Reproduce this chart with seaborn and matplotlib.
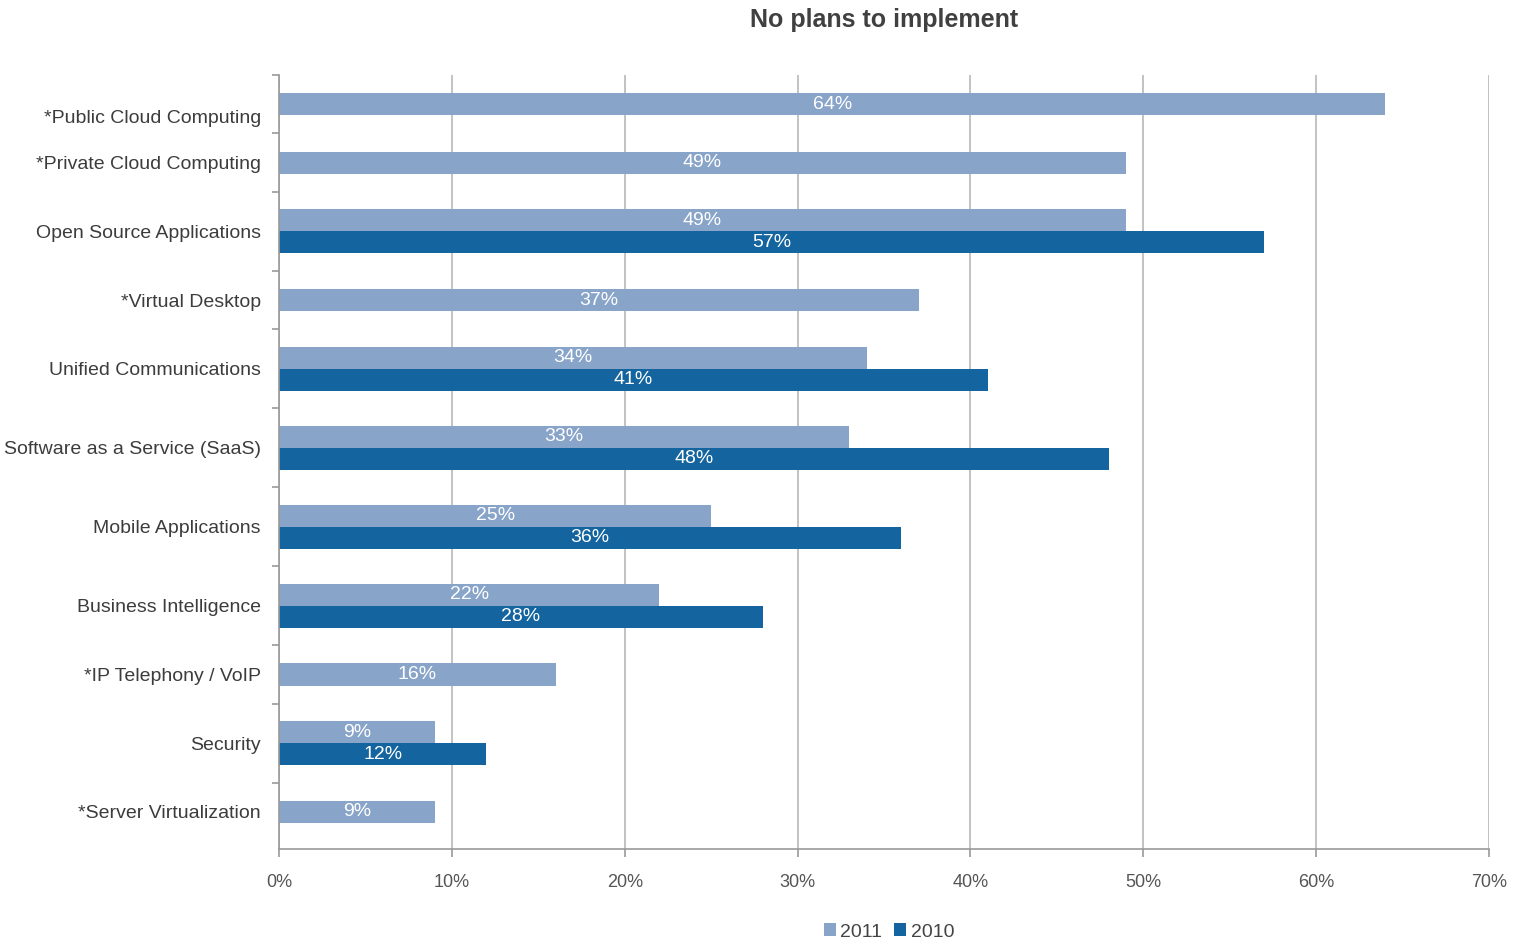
import matplotlib
matplotlib.use("Agg")
import matplotlib.pyplot as plt
from matplotlib.patches import Patch
import pandas as pd
import seaborn as sns

# Survey results: share of respondents with no plans to implement
categories = [
    "*Public Cloud Computing",
    "*Private Cloud Computing",
    "Open Source Applications",
    "*Virtual Desktop",
    "Unified Communications",
    "Software as a Service (SaaS)",
    "Mobile Applications",
    "Business Intelligence",
    "*IP Telephony / VoIP",
    "Security",
    "*Server Virtualization",
]
values_2011 = [64, 49, 49, 37, 34, 33, 25, 22, 16, 9, 9]
values_2010 = [None, None, 57, None, 41, 48, 36, 28, None, 12, None]
series_names = ["2011", "2010"]
series_colors = ["#88a4c9", "#14659f"]
x_ticks = [0, 10, 20, 30, 40, 50, 60, 70]

sns.set_theme(style="white")
plt.rcParams["font.family"] = ["Liberation Sans", "DejaVu Sans"]

# Band layout: categories with both years get a taller band than single-year ones
DUAL_BAND, SINGLE_BAND, BAR = 1.0, 0.74, 0.28
rows, centers, edges = [], [], [0.0]
top = 0.0
for cat, v11, v10 in zip(categories, values_2011, values_2010):
    band = DUAL_BAND if v10 is not None else SINGLE_BAND
    c = top + band / 2
    centers.append(c)
    if v10 is None:
        rows.append((cat, series_names[0], v11, c))
    else:
        rows.append((cat, series_names[0], v11, c - BAR / 2))
        rows.append((cat, series_names[1], v10, c + BAR / 2))
    top += band
    edges.append(top)
y_bottom = top + 0.1

df = pd.DataFrame(rows, columns=["category", "series", "value", "pos"])

fig = plt.figure(figsize=(15.3, 9.44), dpi=100)
ax = fig.add_axes([279 / 1530, 1 - 849 / 944, (1489 - 279) / 1530, (849 - 75) / 944])

sns.barplot(
    data=df, x="value", y="pos", hue="series", hue_order=series_names,
    palette=series_colors, orient="h", native_scale=True, dodge=False,
    width=1.0, saturation=1, errorbar=None, legend=False, linewidth=0, ax=ax,
)

for container in ax.containers:
    ax.bar_label(container, fmt="{:.0f}%", label_type="center",
                 color="white", fontsize=14)

ax.set_xlim(0, 70)
ax.set_ylim(y_bottom, 0)
ax.set_xticks(x_ticks)
ax.set_xticklabels([f"{t}%" for t in x_ticks])
ax.set_xlabel("")
ax.set_ylabel("")

label_pos = list(centers)
label_pos[0] += 0.15
ax.set_yticks(label_pos)
ax.set_yticklabels(categories)
ax.set_yticks(edges[:-1], minor=True)

ax.set_axisbelow(True)
ax.xaxis.grid(True, color="#b8b8b8", linewidth=1.2)
ax.yaxis.grid(False)
for side in ("top", "right"):
    ax.spines[side].set_visible(False)
for side in ("left", "bottom"):
    ax.spines[side].set_color("#999999")
    ax.spines[side].set_linewidth(1.2)

ax.tick_params(axis="x", which="major", length=6, width=1.2, color="#999999",
               direction="out", pad=12, labelsize=13, labelcolor="#555555",
               bottom=True)
ax.tick_params(axis="y", which="major", length=0, pad=13, labelsize=14,
               labelcolor="#3c3c3c")
ax.tick_params(axis="y", which="minor", length=5, width=1.2, color="#999999",
               direction="out", left=True)

fig.text(884 / 1530, 1 - 20 / 944, "No plans to implement", ha="center",
         va="center", fontsize=18, fontweight="bold", color="#404040")

handles = [Patch(facecolor=c, edgecolor="none") for c in series_colors]
fig.legend(handles, series_names, loc="center",
           bbox_to_anchor=(889 / 1530, 1 - 932 / 944), ncol=2, frameon=False,
           handlelength=0.6, handleheight=0.6, handletextpad=0.25,
           columnspacing=0.6, fontsize=14, labelcolor="#444444")

fig.savefig("out.png", dpi=100)
